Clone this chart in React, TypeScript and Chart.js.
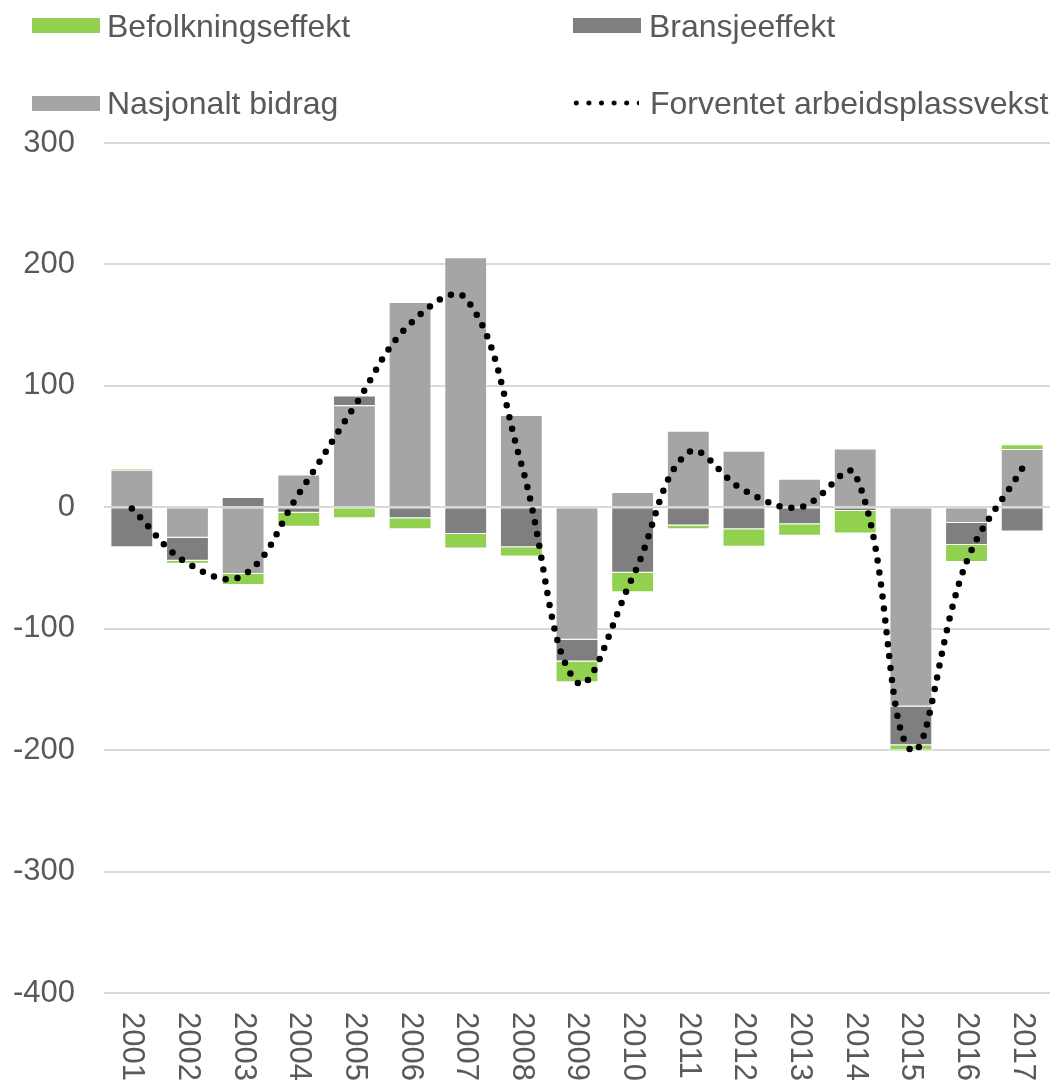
import React, { useEffect, useRef } from "react";
import { Chart, registerables } from "chart.js";

Chart.register(...registerables);

const categories = ["2001", "2002", "2003", "2004", "2005", "2006", "2007", "2008", "2009", "2010", "2011", "2012", "2013", "2014", "2015", "2016", "2017"];
const nasjonaltBidrag = [31, -25, -55, 27, 84, 169, 206, 76, -109, 12.5, 63, 46.5, 23.5, 48.5, -164, -13, 48];
const bransjeeffekt = [-33, -19, 8.5, -4.5, 8, -9, -22, -33, -18, -54, -15, -18, -14, -3, -32, -18, -20];
const befolkningseffekt = [1, -2.5, -9, -11.5, -9, -9, -12, -7.5, -17, -16, -3, -14.5, -9.5, -18.5, -4, -14, 4];
const forventetVekst = [-1, -46, -56, 11, 83, 151, 172, 35.5, -144, -57.5, 45, 14, 0, 27, -200, -45, 32];
const yTicks = [-400, -300, -200, -100, 0, 100, 200, 300];

const labelBefolkning = "Befolkningseffekt";
const labelBransje = "Bransjeeffekt";
const labelNasjonalt = "Nasjonalt bidrag";
const labelForventet = "Forventet arbeidsplassvekst";

const GREEN = "#92D050";
const DARK = "#7F7F7F";
const LIGHT = "#A5A5A5";
const TEXT = "#595959";
const FONT = "'Liberation Sans', Arial, sans-serif";

const xLabelPlugin = {
  id: "xLabels",
  afterDraw(chart: any) {
    const ctx = chart.ctx;
    const xs = chart.scales.x;
    ctx.save();
    ctx.fillStyle = TEXT;
    ctx.font = `31px ${FONT}`;
    ctx.textAlign = "left";
    ctx.textBaseline = "middle";
    categories.forEach((c, i) => {
      const x = xs.getPixelForValue(i);
      ctx.save();
      ctx.translate(x, 1012);
      ctx.rotate(Math.PI / 2);
      ctx.fillText(c, 0, 0);
      ctx.restore();
    });
    ctx.restore();
  },
};

function LegendItem(props: { left: number; top: number; color?: string; dotted?: boolean; text: string; textOffset: number }) {
  const { left, top, color, dotted, text, textOffset } = props;
  return (
    <>
      {dotted ? (
        <div
          style={{
            position: "absolute",
            left: left,
            top: top - 3,
            width: 69,
            height: 6,
            backgroundImage: "radial-gradient(circle, #000 2.2px, rgba(0,0,0,0) 2.8px)",
            backgroundSize: "12.6px 6px",
            backgroundRepeat: "repeat-x",
          }}
        />
      ) : (
        <div
          style={{
            position: "absolute",
            left: left,
            top: top - 7.5,
            width: 68,
            height: 15,
            background: color,
          }}
        />
      )}
      <div
        style={{
          position: "absolute",
          left: left + textOffset,
          top: top - 16,
          fontFamily: FONT,
          fontSize: 32,
          lineHeight: "32px",
          color: TEXT,
          whiteSpace: "nowrap",
        }}
      >
        {text}
      </div>
    </>
  );
}

export default function App() {
  const canvasRef = useRef<HTMLCanvasElement | null>(null);

  useEffect(() => {
    document.body.style.margin = "0";
    document.body.style.overflow = "hidden";
    const canvas = canvasRef.current;
    if (!canvas) return;
    const chart = new Chart(canvas, {
      type: "bar",
      data: {
        labels: categories,
        datasets: [
          {
            type: "line",
            label: labelForventet,
            data: forventetVekst,
            borderColor: "#000",
            borderWidth: 6.5,
            borderDash: [0, 12],
            borderCapStyle: "round",
            pointRadius: 0,
            tension: 0.4,
            fill: false,
            stack: "line",
          } as any,
          {
            label: labelNasjonalt,
            data: nasjonaltBidrag,
            backgroundColor: LIGHT,
            borderColor: "rgba(255,255,255,0.6)",
            borderWidth: 1,
            stack: "s",
          },
          {
            label: labelBransje,
            data: bransjeeffekt,
            backgroundColor: DARK,
            borderColor: "rgba(255,255,255,0.6)",
            borderWidth: 1,
            stack: "s",
          },
          {
            label: labelBefolkning,
            data: befolkningseffekt,
            backgroundColor: GREEN,
            borderColor: "rgba(255,255,255,0.6)",
            borderWidth: 1,
            stack: "s",
          },
        ],
      },
      options: {
        animation: false,
        responsive: false,
        maintainAspectRatio: false,
        datasets: { bar: { barPercentage: 0.77, categoryPercentage: 1.0 } },
        layout: { padding: { left: 0, right: 3, top: 143, bottom: 81 } },
        plugins: { legend: { display: false }, tooltip: { enabled: false } },
        scales: {
          x: {
            stacked: true,
            grid: { display: false },
            border: { display: false },
            ticks: { display: false },
          },
          y: {
            stacked: true,
            min: yTicks[0],
            max: yTicks[yTicks.length - 1],
            afterFit(scale: any) {
              scale.width = 104;
            },
            afterBuildTicks(scale: any) {
              scale.ticks = yTicks.map((v) => ({ value: v }));
            },
            grid: { color: "#D9D9D9", lineWidth: 2, drawTicks: false },
            border: { display: false },
            ticks: {
              color: TEXT,
              font: { family: FONT, size: 31 },
              padding: 29,
            },
          },
        },
      },
      plugins: [xLabelPlugin],
    });
    return () => chart.destroy();
  }, []);

  return (
    <div style={{ position: "absolute", left: 0, top: 0, width: 1053, height: 1082 }}>
      <canvas ref={canvasRef} width={1053} height={1082} style={{ position: "absolute", left: 0, top: 0 }} />
      <LegendItem left={32} top={25.5} color={GREEN} text={labelBefolkning} textOffset={75} />
      <LegendItem left={573} top={25.5} color={DARK} text={labelBransje} textOffset={76} />
      <LegendItem left={32} top={103} color={LIGHT} text={labelNasjonalt} textOffset={75} />
      <LegendItem left={570} top={103} dotted text={labelForventet} textOffset={80} />
    </div>
  );
}
